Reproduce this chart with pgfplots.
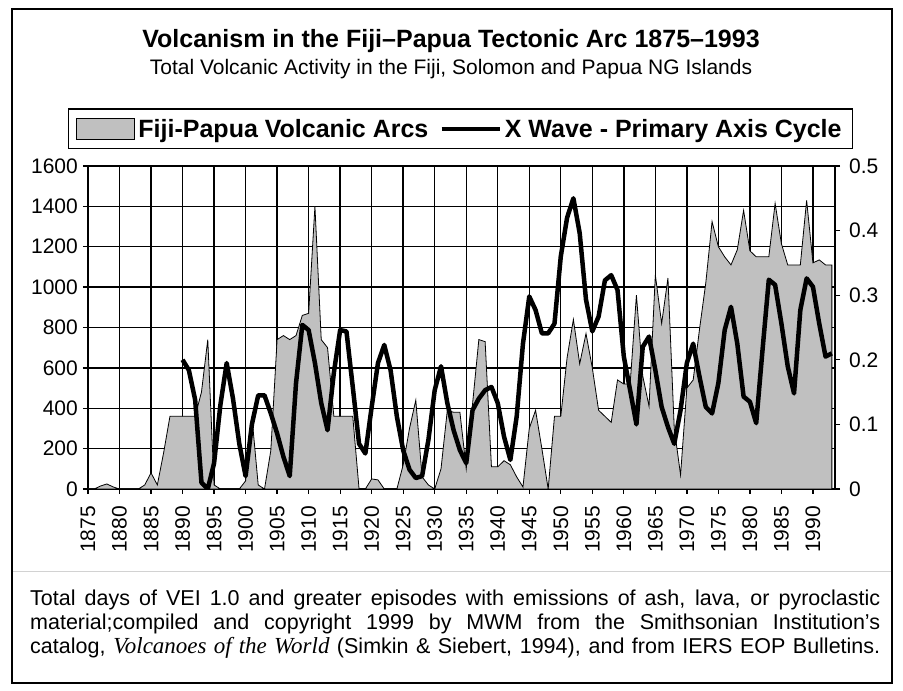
\documentclass[border=0pt]{standalone}
\usepackage{pgfplots}
\pgfplotsset{compat=1.18}
\usepackage{pgfplotstable}
\usepackage{fontspec}
\setmainfont{Liberation Sans}
\newfontfamily\timesfont{Liberation Serif}
\definecolor{areagray}{HTML}{C0C0C0}
\pgfplotsset{
  arealeg/.style={legend image code/.code={\draw[##1] (0pt,-10.5pt) rectangle (58pt,10.5pt);}},
  lineleg/.style={legend image code/.code={\draw[##1] (0pt,0pt) -- (58pt,0pt);}},
}

\pgfplotstableread{
year days
1875 0
1876 0
1877 15
1878 25
1879 10
1880 0
1881 0
1882 0
1883 0
1884 20
1885 80
1886 20
1887 180
1888 360
1889 360
1890 360
1891 360
1892 360
1893 480
1894 740
1895 20
1896 0
1897 0
1898 0
1899 0
1900 40
1901 360
1902 20
1903 0
1904 190
1905 740
1906 760
1907 740
1908 760
1909 860
1910 870
1911 1400
1912 740
1913 700
1914 360
1915 360
1916 360
1917 360
1918 0
1919 0
1920 50
1921 45
1922 0
1923 0
1924 0
1925 120
1926 300
1927 440
1928 60
1929 20
1930 0
1931 100
1932 390
1933 380
1934 380
1935 100
1936 420
1937 740
1938 730
1939 110
1940 110
1941 140
1942 120
1943 60
1944 10
1945 300
1946 390
1947 200
1948 0
1949 360
1950 360
1951 650
1952 840
1953 620
1954 770
1955 600
1956 390
1957 360
1958 330
1959 540
1960 520
1961 520
1962 960
1963 560
1964 410
1965 1060
1966 820
1967 1045
1968 300
1969 70
1970 500
1971 540
1972 790
1973 1020
1974 1325
1975 1200
1976 1150
1977 1110
1978 1185
1979 1380
1980 1180
1981 1150
1982 1150
1983 1150
1984 1415
1985 1215
1986 1110
1987 1110
1988 1110
1989 1430
1990 1120
1991 1135
1992 1110
1993 1110
}\arcs

\pgfplotstableread{
year wave
1890 0.200
1891 0.184
1892 0.138
1893 0.010
1894 0.000
1895 0.040
1896 0.130
1897 0.195
1898 0.140
1899 0.070
1900 0.020
1901 0.100
1902 0.145
1903 0.145
1904 0.117
1905 0.086
1906 0.050
1907 0.020
1908 0.164
1909 0.254
1910 0.246
1911 0.195
1912 0.133
1913 0.091
1914 0.180
1915 0.246
1916 0.244
1917 0.158
1918 0.070
1919 0.055
1920 0.127
1921 0.195
1922 0.223
1923 0.184
1924 0.112
1925 0.060
1926 0.030
1927 0.017
1928 0.020
1929 0.076
1930 0.153
1931 0.190
1932 0.133
1933 0.091
1934 0.060
1935 0.040
1936 0.122
1937 0.140
1938 0.153
1939 0.158
1940 0.133
1941 0.081
1942 0.045
1943 0.112
1944 0.225
1945 0.298
1946 0.277
1947 0.241
1948 0.241
1949 0.256
1950 0.360
1951 0.420
1952 0.450
1953 0.396
1954 0.293
1955 0.244
1956 0.267
1957 0.323
1958 0.331
1959 0.308
1960 0.205
1961 0.153
1962 0.100
1963 0.220
1964 0.236
1965 0.184
1966 0.127
1967 0.096
1968 0.070
1969 0.122
1970 0.195
1971 0.225
1972 0.174
1973 0.127
1974 0.117
1975 0.164
1976 0.246
1977 0.282
1978 0.225
1979 0.143
1980 0.135
1981 0.102
1982 0.215
1983 0.324
1984 0.316
1985 0.256
1986 0.190
1987 0.148
1988 0.277
1989 0.326
1990 0.313
1991 0.256
1992 0.205
1993 0.210
}\wave

\begin{document}
\begin{tikzpicture}
\useasboundingbox (0,0) rectangle (903pt,691pt);
\draw[line width=1.2pt] (12pt,8pt) rectangle (892pt,682pt);
\draw[gray!35, line width=0.8pt] (13pt,120pt) -- (891pt,120pt);

\node[anchor=base, font=\fontsize{25}{28}\selectfont\bfseries] at (451pt,643pt)
  {Volcanism in the Fiji–Papua Tectonic Arc 1875–1993};
\node[anchor=base, font=\fontsize{21}{24}\selectfont] at (451pt,616pt)
  {Total Volcanic Activity in the Fiji, Solomon and Papua NG Islands};

\begin{axis}[
  at={(88pt,202pt)}, anchor=south west,
  width=747pt, height=323pt, scale only axis,
  xmin=1875, xmax=1993.5, ymin=0, ymax=1600,
  xtick={1875,1880,...,1990},
  ytick={0,200,...,1600},
  xtick pos=left, ytick pos=left,
  grid=major,
  major grid style={black, line width=1.4pt},
  axis line style={black, line width=1.5pt},
  tick style={black, line width=1.3pt},
  tick align=outside, major tick length=5pt,
  /pgf/number format/assume math mode=true,
  /pgf/number format/1000 sep={},
  ticklabel style={font=\fontsize{21}{21}\selectfont},
  x tick label style={yshift=-8pt, rotate=90, anchor=east, inner sep=4pt},
  y tick label style={inner sep=5pt},
]
\addplot[fill=areagray, draw=black, line width=0.8pt] table[x=year, y=days] {\arcs} \closedcycle;
\end{axis}

\begin{axis}[
  at={(88pt,202pt)}, anchor=south west,
  width=747pt, height=323pt, scale only axis,
  xmin=1875, xmax=1993.5, ymin=0, ymax=0.5,
  axis y line*=right, axis x line=none,
  ytick={0,0.1,0.2,0.3,0.4,0.5},
  yticklabels={0,0.1,0.2,0.3,0.4,0.5},
  axis line style={black, line width=1.5pt},
  tick style={black, line width=1.3pt},
  tick align=outside, major tick length=5pt,
  ticklabel style={font=\fontsize{21}{21}\selectfont},
  y tick label style={inner sep=9pt},
  legend columns=2,
  legend style={at={(0.4987,1.052)}, anchor=south, draw=black, line width=1.2pt,
    font=\fontsize{25}{28}\selectfont\bfseries,
    inner xsep=8pt, inner ysep=7pt,
    nodes={inner sep=3pt},
    /tikz/every even column/.append style={column sep=8pt}},
]
\addlegendimage{fill=areagray, draw=black, line width=1pt, arealeg}
\addlegendentry{Fiji-Papua Volcanic Arcs}
\addplot[black, line width=4.5pt, line join=round, lineleg]
  table[x=year, y=wave] {\wave};
\addlegendentry{X Wave - Primary Axis Cycle}
\end{axis}

\node[anchor=base west, inner sep=0pt, font=\fontsize{21.5}{24}\selectfont] at (30pt,85pt)
  {\makebox[850pt][s]{Total days of VEI 1.0 and greater episodes with emissions of ash, lava, or pyroclastic}};
\node[anchor=base west, inner sep=0pt, font=\fontsize{21.5}{24}\selectfont] at (30pt,61pt)
  {\makebox[850pt][s]{material;compiled and copyright 1999 by MWM from the Smithsonian Institution's}};
\node[anchor=base west, inner sep=0pt, font=\fontsize{21.5}{24}\selectfont] at (30pt,37pt)
  {\makebox[850pt][s]{catalog, {\timesfont\itshape\fontsize{23}{24}\selectfont Volcanoes of the World} (Simkin \& Siebert, 1994), and from IERS EOP Bulletins.}};
\end{tikzpicture}
\end{document}
